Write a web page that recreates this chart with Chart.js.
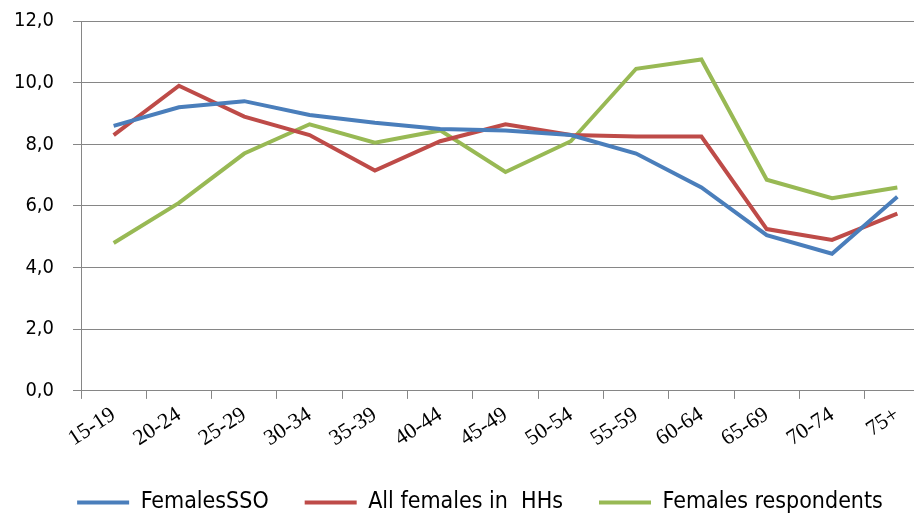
<!DOCTYPE html>
<html>
<head>
<meta charset="utf-8">
<script src="https://cdn.jsdelivr.net/npm/chart.js@4"></script>
<style>
  html, body { margin: 0; padding: 0; background: #fff; overflow: hidden; }
  #wrap { width: 930px; height: 534px; margin-top: -10px; }
</style>
</head>
<body>
<div id="wrap"><canvas id="myChart"></canvas></div>
<script>
        const ageGroups = ["15-19", "20-24", "25-29", "30-34", "35-39", "40-44", "45-49",
                           "50-54", "55-59", "60-64", "65-69", "70-74", "75+"];
        const femalesSSO = [8.6, 9.2, 9.4, 8.95, 8.7, 8.5, 8.45, 8.3, 7.7, 6.6, 5.05, 4.45, 6.3];
        const allFemalesHH = [8.3, 9.9, 8.9, 8.3, 7.15, 8.1, 8.65, 8.3, 8.25, 8.25, 5.25, 4.9, 5.75];
        const femaleRespondents = [4.8, 6.1, 7.7, 8.65, 8.05, 8.45, 7.1, 8.1, 10.45, 10.75, 6.85, 6.25, 6.6];
        const yTicks = [0, 2, 4, 6, 8, 10, 12];

        const fontName = "'DejaVu Sans Condensed', Lato, sans-serif";

        // nudge the legend a little to the right, like the original
        const legendShift = {
            id: "legendShift",
            afterLayout(chart) {
                chart.legend.left += 11;
                chart.legend.right += 11;
            }
        };

        const ctx = document.getElementById("myChart").getContext("2d");
        new Chart(ctx, {
            type: "line",
            data: {
                labels: ageGroups,
                datasets: [
                    { label: "FemalesSSO", data: femalesSSO, borderColor: "#4A7EBB", backgroundColor: "#4A7EBB", borderWidth: 4 },
                    { label: "All females in  HHs", data: allFemalesHH, borderColor: "#BE4B48", backgroundColor: "#BE4B48", borderWidth: 4 },
                    { label: "Females respondents", data: femaleRespondents, borderColor: "#98B954", backgroundColor: "#98B954", borderWidth: 4 }
                ]
            },
            plugins: [legendShift],
            options: {
                responsive: true,
                maintainAspectRatio: false,
                animation: false,
                elements: {
                    line: { borderWidth: 4, tension: 0 },
                    point: { radius: 0 }
                },
                layout: { padding: { top: 0, left: 8, right: 0, bottom: 0 } },
                scales: {
                    x: {
                        offset: true,
                        afterFit: (scale) => { scale.paddingLeft = 0; },
                        grid: {
                            offset: true,
                            drawOnChartArea: false,
                            tickLength: 8,
                            color: "#868686"
                        },
                        border: { color: "#868686" },
                        ticks: {
                            maxRotation: 33,
                            minRotation: 33,
                            color: "#000",
                            padding: 3,
                            font: { family: "'Liberation Serif', serif", size: 22 }
                        }
                    },
                    y: {
                        min: 0,
                        max: 12,
                        afterBuildTicks: (axis) => { axis.ticks = yTicks.map(v => ({ value: v })); },
                        afterFit: (scale) => { scale.width = 73; },
                        grid: { color: "#868686", tickLength: 8 },
                        border: { color: "#868686" },
                        ticks: {
                            color: "#000",
                            padding: 19,
                            font: { family: fontName, size: 20 },
                            callback: (v) => v.toFixed(1).replace(".", ",")
                        }
                    }
                },
                plugins: {
                    tooltip: { enabled: false },
                    legend: {
                        position: "bottom",
                        labels: {
                            usePointStyle: true,
                            pointStyle: "line",
                            pointStyleWidth: 52,
                            color: "#000",
                            padding: 36,
                            font: { family: fontName, size: 23 }
                        }
                    }
                }
            }
        });
</script>
</body>
</html>
